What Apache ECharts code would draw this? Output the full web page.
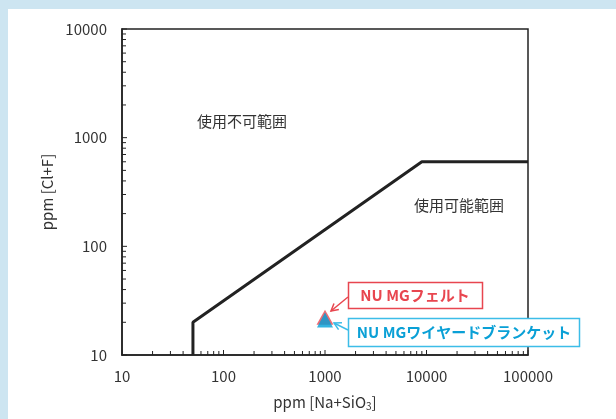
<!DOCTYPE html>
<html><head><meta charset="utf-8">
<script src="https://cdn.jsdelivr.net/npm/echarts@6/dist/echarts.min.js"></script>
<style>
html,body{margin:0;padding:0;}
#wrap{position:relative;width:616px;height:419px;background:#cde5f1;overflow:hidden;}
#white{position:absolute;left:8px;top:9px;width:608px;height:410px;background:#fff;}
#c{position:absolute;left:0;top:0;width:616px;height:419px;}
</style></head>
<body><div id="wrap"><div id="white"></div><div id="c"></div></div>
<script>
// boundary line (ppm Na+SiO3, ppm Cl+F)
const boundaryX = [50, 50, 9000, 100000];
const boundaryY = [10, 20, 600, 600];
// products
const feltPoint = [1000, 22.3];
const blanketPoint = [1000, 21];
const xTickLabels = ['10','100','1000','10000','100000'];
const yTickLabels = ['10','100','1000','10000'];
const minorMult = [2,3,4,5,6,7,8,9];

const FONT = '"Noto Sans CJK JP","Noto Sans",sans-serif';
const chart = echarts.init(document.getElementById('c'));

const xTicks = [], yTicks = [];
[10,100,1000,10000].forEach(d => { xTicks.push([d,1]); minorMult.forEach(m => xTicks.push([d*m,0])); });
xTicks.push([100000,1]);
[10,100,1000].forEach(d => { yTicks.push([d,1]); minorMult.forEach(m => yTicks.push([d*m,0])); });
yTicks.push([10000,1]);

function tickSeries(data, isX){
  return {
    type:'custom', silent:true, z:1,
    data: data,
    renderItem: (params, api) => {
      const v = api.value(0), major = api.value(1);
      const len = major ? 5 : 4;
      if (isX){
        const p = api.coord([v, 10]);
        return {type:'line', shape:{x1:p[0],y1:p[1],x2:p[0],y2:p[1]-len}, style:{stroke:'#222',lineWidth:1}};
      } else {
        const p = api.coord([10, v]);
        return {type:'line', shape:{x1:p[0],y1:p[1],x2:p[0]+len,y2:p[1]}, style:{stroke:'#222',lineWidth:1}};
      }
    },
    encode:{x:0}
  };
}

function arrow(x1,y1,x2,y2,color){
  const ang = Math.atan2(y2-y1, x2-x1);
  const L = 8, a = 0.5;
  const p1 = [x2 - L*Math.cos(ang-a), y2 - L*Math.sin(ang-a)];
  const p2 = [x2 - L*Math.cos(ang+a), y2 - L*Math.sin(ang+a)];
  return [
    {type:'line', shape:{x1,y1,x2,y2}, style:{stroke:color,lineWidth:1.5}, z:10},
    {type:'polyline', shape:{points:[p1,[x2,y2],p2]}, style:{stroke:color,lineWidth:1.5,fill:null}, z:10}
  ];
}

chart.setOption({
  animation:false,
  grid:{left:122, top:29, right:88, bottom:64, show:true, borderColor:'#222', borderWidth:1.5, backgroundColor:'transparent'},
  xAxis:{
    type:'log', logBase:10, min:10, max:100000,
    name:'ppm [Na+SiO{s|3}]', nameLocation:'middle', nameGap:38,
    nameTextStyle:{fontFamily:FONT, fontSize:15, color:'#333', rich:{s:{fontSize:10, verticalAlign:'bottom', padding:[8,0,0,0], fontFamily:FONT, color:'#333'}}},
    axisLine:{lineStyle:{color:'#222', width:1.5}},
    axisTick:{show:false}, splitLine:{show:false},
    axisLabel:{fontFamily:FONT, fontSize:15, color:'#333', margin:14, formatter: v => xTickLabels.find(t => +t === Math.round(v)) || ''}
  },
  yAxis:{
    type:'log', logBase:10, min:10, max:10000,
    name:'ppm [Cl+F]', nameLocation:'middle', nameGap:50,
    nameTextStyle:{fontFamily:FONT, fontSize:15, color:'#333'},
    axisLine:{lineStyle:{color:'#222', width:1.5}},
    axisTick:{show:false}, splitLine:{show:false},
    axisLabel:{fontFamily:FONT, fontSize:15, color:'#333', margin:15, formatter: v => yTickLabels.find(t => +t === Math.round(v)) || ''}
  },
  series:[
    tickSeries(xTicks, true),
    tickSeries(yTicks, false),
    {type:'line', data: boundaryX.map((x,i)=>[x, boundaryY[i]]), symbol:'none',
     lineStyle:{color:'#222', width:3}, z:3},
    {type:'scatter', data:[feltPoint], symbol:'triangle', symbolSize:[17,15], itemStyle:{color:'#e84650'}, z:4},
    {type:'scatter', data:[blanketPoint], symbol:'triangle', symbolSize:[16,15], itemStyle:{color:'#00a0d8'}, z:5}
  ],
  graphic:[
    {type:'text', left:197, top:114, style:{text:'使用不可範囲', font:'15px '+FONT, fill:'#333'}},
    {type:'text', left:414, top:198, style:{text:'使用可能範囲', font:'15px '+FONT, fill:'#333'}},
    {type:'rect', shape:{x:348.5,y:282.5,width:134,height:26}, style:{fill:'#fff', stroke:'#e8464f', lineWidth:1.5}, z:10},
    {type:'text', x:415, y:295.5, style:{text:'NU MGフェルト', font:'bold 15px '+FONT, fill:'#e8464f', align:'center', verticalAlign:'middle'}, z:11},
    {type:'rect', shape:{x:348.5,y:318.5,width:231,height:28}, style:{fill:'#fff', stroke:'#3cbde8', lineWidth:1.5}, z:10},
    {type:'text', x:464, y:332.5, style:{text:'NU MGワイヤードブランケット', font:'bold 15px '+FONT, fill:'#0aa0d6', align:'center', verticalAlign:'middle'}, z:11},
    ...arrow(348,297,331,311,'#e8464f'),
    ...arrow(348,330,334,323,'#3cbde8')
  ]
});
</script></body></html>
